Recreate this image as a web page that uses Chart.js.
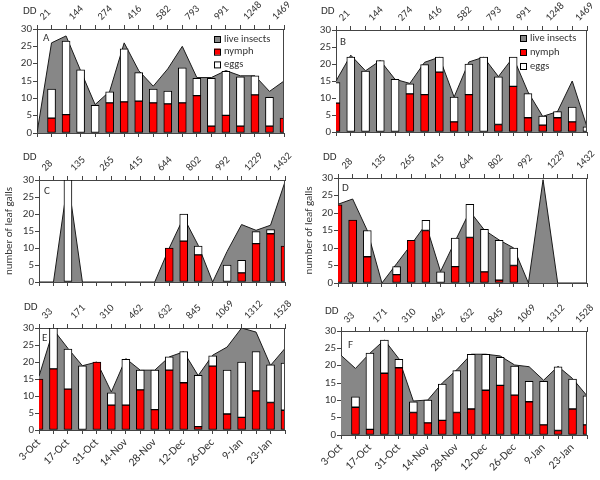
<!DOCTYPE html>
<html>
<head>
<meta charset="utf-8">
<script src="https://cdn.jsdelivr.net/npm/chart.js@4.4.0/dist/chart.umd.min.js"></script>
<style>
  html, body { margin: 0; padding: 0; background: #fff; }
  #wrap { position: relative; width: 600px; height: 480px; }
  #wrap canvas { position: absolute; }
</style>
</head>
<body>
<div id="wrap"></div>
<script>
// ── Données (18 relevés par panneau) ───────────────────────────────

const ddRow1 = ['21', '144', '274', '416', '582', '793', '991', '1248', '1469'];
const ddRow2 = ['28', '135', '265', '415', '644', '802', '992', '1229', '1432'];
const ddRow3 = ['33', '171', '310', '462', '632', '845', '1069', '1312', '1528'];
const dateLabels = ['3-Oct', '17-Oct', '31-Oct', '14-Nov', '28-Nov', '12-Dec', '26-Dec', '9-Jan', '23-Jan'];
const legendLabels = ['live insects', 'nymph', 'eggs'];

const liveA  = [0, 26, 28, 18, 8.2, 12, 26, 18, 13.5, 18.5, 25, 16, 16, 18, 16.5, 16.5, 12, 15];
const nymphA = [null, 4.3, 5.3, null, null, 8.7, 9, 9.2, 8.7, 8.4, 8.7, 10.8, 2, 5.1, 2, 11, 2, 4.3];
const eggsA  = [null, 8.4, 21.2, 18.2, 8, 3.2, 15.3, 8.2, 4, 3.7, 10.1, 5, 13.8, 12.7, 14.2, 5.5, 8.3, null];

const liveB  = [15, 22.6, 18, 21, 15.5, 14.3, 20.5, 22, 10.3, 20.6, 22, 16.3, 22, 11.8, 4.6, 6, 15, 1.5];
const nymphB = [8.5, null, null, null, null, 11.2, 11, 17.6, 3, 11, null, 2.2, 13.4, 4.2, 2, 4.2, 3, null];
const eggsB  = [6, 22, 17.9, 21, 15.5, 3, 8.8, 4.4, 7.3, 9, 22, 14, 8.6, 7.1, 2.7, 1.8, 4.3, 1.5];

const liveC  = [0, 0, 30, 0, 0, 0, 0, 0, 0, 10, 19, 10.8, 0, 9, 16.9, 15.2, 16.7, 29.5];
const nymphC = [null, null, null, null, null, null, null, null, null, 10, 12, 8, null, null, 2.7, 11.3, 14.2, 10.6];
const eggsC  = [null, null, 30, null, null, null, null, null, null, null, 8, 2.6, null, 5, 3.7, 3.5, 1.2, null];

const liveD  = [22.5, 24, 15, 0, 5.5, 11, 16.8, 3.3, 12, 20.5, 15.1, 12.3, 10, 0, 29.5, 0, 0, 0];
const nymphD = [22.3, 18, 7.5, null, 2.4, 12.2, 15, null, 4.7, 13, 3.2, 0.8, 5, null, null, null, null, null];
const eggsD  = [null, null, 7.5, null, 2.3, null, 2.9, 3.2, 8.1, 9.5, 12.1, 11.4, 5, null, null, null, null, null];

const liveE  = [15.8, 29.5, 24, 18.9, 20, 11.2, 21, 17.6, 17.6, 21.5, 23, 16, 22, 24.4, 30, 28.8, 19, 24];
const nymphE = [15, 18, 12, null, 20, 7.3, 7.3, 11.8, 6, 17.6, 13.9, 1, 18.8, 4.7, 3.7, 11.5, 8.1, 5.8];
const eggsE  = [null, 12, 11.8, 18.9, null, 3.6, 13.5, 5.8, 11.6, 3.9, 9.2, 15.1, 3, 12.9, 16.3, 11.6, 11.1, 13.9];

const liveF  = [23, 19.2, 23.6, 27.4, 22, 9.8, 10.1, 15, 18.8, 23.3, 23.3, 22.8, 20.2, 19.7, 15.8, 19.8, 16.3, 11.3];
const nymphF = [null, 8, 1.6, 17.8, 19.4, 6.5, 3.5, 4.2, 6.5, 7.5, 12.9, 14.3, 11.5, 9.6, 2.9, 1.3, 7.5, 2.9];
const eggsF  = [null, 3, 22, 9.6, 2.4, 3.1, 6.6, 10.5, 12.1, 15.8, 10.4, 8.1, 8.4, 5.9, 12.6, 18.4, 8.6, 8.4];

// ── Style ──────────────────────────────────────────────────────────

const FONT  = "Carlito, Lato, 'Liberation Sans', sans-serif";
const TEXT  = '#333';
const AXIS  = '#444';
const GREY  = '#878787';
const RED   = '#ff0000';
const N_PTS = 18;

// étiquettes réparties une case sur deux
function spreadLabels(values, start) {
  const out = new Array(N_PTS).fill('');
  values.forEach((v, i) => { out[start + 2 * i] = v; });
  return out;
}

// cadre de chaque panneau : canvas [x, y, w, h], zone du graphe [gauche, haut, droite, bas]
const panels = [
  { letter: 'A', canvas: [0, 0, 300, 145],     area: [37, 29, 284, 133], dd: ddRow1, dates: false, yTitle: false,
    live: liveA, nymph: nymphA, eggs: eggsA, ddPos: [23, 11], letterPos: [43, 38], ddOffset: -1, ddPad: 2,
    legend: { x: 214, y: 39, dy: 12.7 } },
  { letter: 'B', canvas: [300, 0, 300, 145],   area: [36, 30, 287, 132], dd: ddRow1, dates: false, yTitle: false,
    live: liveB, nymph: nymphB, eggs: eggsB, ddPos: [21, 11], letterPos: [40, 42], ddOffset: -1, ddPad: 2,
    legend: { x: 220, y: 38, dy: 14 } },
  { letter: 'C', canvas: [0, 145, 300, 150],   area: [39, 35, 285, 137], dd: ddRow2, dates: false, yTitle: true,
    live: liveC, nymph: nymphC, eggs: eggsC, ddPos: [23, 12], letterPos: [44, 46], ddOffset: -1, ddPad: 2 },
  { letter: 'D', canvas: [300, 145, 300, 150], area: [38, 33, 287, 138], dd: ddRow2, dates: false, yTitle: true,
    live: liveD, nymph: nymphD, eggs: eggsD, ddPos: [23, 12], letterPos: [42, 43], ddOffset: 0, ddPad: 2 },
  { letter: 'E', canvas: [0, 295, 300, 185],   area: [39, 33, 285, 135], dd: ddRow3, dates: true, yTitle: false,
    live: liveE, nymph: nymphE, eggs: eggsE, ddPos: [24, 12], letterPos: [42, 43], ddOffset: -1, ddPad: 2 },
  { letter: 'F', canvas: [300, 295, 300, 185], area: [41, 36, 287, 140], dd: ddRow3, dates: true, yTitle: false,
    live: liveF, nymph: nymphF, eggs: eggsF, ddPos: [25, 16], letterPos: [48, 50], ddOffset: -1, ddPad: 1 },
];

// ── Plugin : bord droit, "DD", lettre du panneau, légende ──────────

const panelExtras = {
  id: 'panelExtras',
  afterDraw(chart, args, opts) {
    const { ctx, chartArea } = chart;
    ctx.save();
    ctx.strokeStyle = AXIS;
    ctx.lineWidth = 1;
    ctx.beginPath();
    ctx.moveTo(chartArea.right - 0.5, chartArea.top);
    ctx.lineTo(chartArea.right - 0.5, chartArea.bottom);
    ctx.stroke();

    ctx.fillStyle = TEXT;
    ctx.textAlign = 'left';
    ctx.textBaseline = 'middle';
    ctx.font = `11px ${FONT}`;
    ctx.fillText('DD', opts.ddPos[0], opts.ddPos[1]);
    ctx.fillText(opts.letter, opts.letterPos[0], opts.letterPos[1]);

    if (opts.legend) {
      const fills = [GREY, RED, '#fff'];
      ctx.font = `10.5px ${FONT}`;
      legendLabels.forEach((txt, i) => {
        const y = opts.legend.y + i * opts.legend.dy;
        ctx.fillStyle = fills[i];
        ctx.fillRect(opts.legend.x, y - 3, 6, 6);
        ctx.strokeStyle = '#000';
        ctx.strokeRect(opts.legend.x + 0.5, y - 2.5, 6, 6);
        ctx.fillStyle = TEXT;
        ctx.fillText(txt, opts.legend.x + 10, y);
      });
    }
    ctx.restore();
  },
};

// ── Construction des 6 graphiques ──────────────────────────────────

const wrap = document.getElementById('wrap');

panels.forEach((p) => {
  const [cx, cy, cw, ch] = p.canvas;
  const [left, top, right, bottom] = p.area;
  const canvas = document.createElement('canvas');
  canvas.width = cw;
  canvas.height = ch;
  canvas.style.left = cx + 'px';
  canvas.style.top = cy + 'px';
  wrap.appendChild(canvas);

  const noPad = (s) => { s.paddingLeft = 0; s.paddingRight = 0; s.paddingTop = 0; s.paddingBottom = 0; };
  const tickGrid = { drawOnChartArea: false, drawTicks: true, tickLength: 4, color: AXIS, offset: false };

  new Chart(canvas, {
    type: 'bar',
    data: {
      labels: p.dates ? spreadLabels(dateLabels, 0) : new Array(N_PTS).fill(''),
      datasets: [
        {
          type: 'line',
          label: legendLabels[0],
          data: p.live,
          stack: 'live',
          fill: 'origin',
          backgroundColor: GREY,
          borderColor: '#1a1a1a',
          borderWidth: 1,
          pointRadius: 0,
          tension: 0,
          order: 3,
          clip: 0,
        },
        {
          label: legendLabels[1],
          data: p.nymph,
          stack: 'bars',
          backgroundColor: RED,
          borderColor: '#000',
          borderWidth: 1,
          borderSkipped: false,
          barThickness: 8,
          order: 1,
          clip: 0,
        },
        {
          label: legendLabels[2],
          data: p.eggs,
          stack: 'bars',
          backgroundColor: '#fff',
          borderColor: '#000',
          borderWidth: 1,
          borderSkipped: false,
          barThickness: 8,
          order: 1,
          clip: 0,
        },
      ],
    },
    options: {
      responsive: false,
      animation: false,
      events: [],
      layout: { padding: { left: 0, top: 0, bottom: 0, right: cw - right } },
      plugins: {
        legend: { display: false },
        tooltip: { enabled: false },
        panelExtras: { letter: p.letter, ddPos: p.ddPos, letterPos: p.letterPos, legend: p.legend },
      },
      scales: {
        x: {
          type: 'category',
          position: 'bottom',
          offset: false,
          stacked: true,
          grid: tickGrid,
          border: { color: AXIS, width: 1 },
          ticks: {
            autoSkip: false, minRotation: 45, maxRotation: 45, padding: 2,
            color: TEXT, font: { family: FONT, size: 11.5 },
          },
          afterFit: (s) => { s.height = ch - bottom; noPad(s); },
        },
        x2: {
          type: 'category',
          position: 'top',
          labels: spreadLabels(p.dd, 1),
          offset: false,
          grid: tickGrid,
          border: { color: AXIS, width: 1 },
          ticks: {
            autoSkip: false, minRotation: 45, maxRotation: 45, padding: p.ddPad,
            labelOffset: p.ddOffset, color: TEXT, font: { family: FONT, size: 10.5 },
          },
          afterFit: (s) => { s.height = top; noPad(s); },
        },
        y: {
          min: 0,
          max: 30,
          stacked: true,
          grid: { drawOnChartArea: false, drawTicks: true, tickLength: 4, color: AXIS },
          border: { color: AXIS, width: 1 },
          ticks: { stepSize: 5, padding: 1, color: TEXT, font: { family: FONT, size: 11 } },
          title: {
            display: p.yTitle,
            text: 'number of leaf galls',
            color: TEXT,
            font: { family: FONT, size: 11 },
            padding: { top: 3, bottom: 0 },
          },
          afterFit: (s) => { s.width = left; noPad(s); },
        },
      },
    },
    plugins: [panelExtras],
  });
});
</script>
</body>
</html>
